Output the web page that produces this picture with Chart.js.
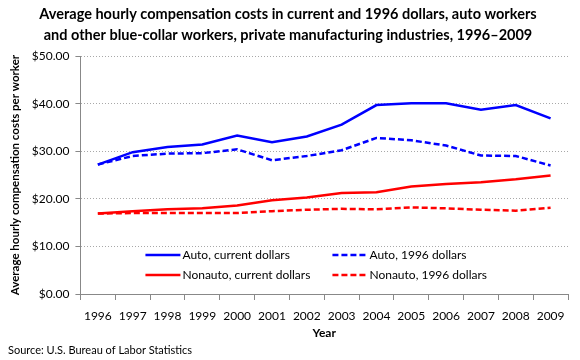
<!DOCTYPE html>
<html>
<head>
<meta charset="utf-8">
<script src="https://cdn.jsdelivr.net/npm/chart.js@4"></script>
<style>
  body { margin: 0; background: #fff; }
  #wrap { width: 580px; height: 360px; position: relative; }
</style>
</head>
<body>
<div id="wrap"><canvas id="chart" width="580" height="360"></canvas></div>
<script>
const years = ["1996", "1997", "1998", "1999", "2000", "2001", "2002", "2003", "2004", "2005", "2006", "2007", "2008", "2009"];
const autoCurrent = [27.2, 29.8, 30.9, 31.4, 33.3, 31.9, 33.1, 35.6, 39.7, 40.1, 40.1, 38.7, 39.7, 36.9];
const auto1996 = [27.2, 29.0, 29.5, 29.6, 30.4, 28.1, 29.0, 30.2, 32.8, 32.3, 31.2, 29.1, 29.0, 27.0];
const nonautoCurrent = [16.9, 17.4, 17.8, 18.0, 18.6, 19.7, 20.3, 21.2, 21.4, 22.6, 23.1, 23.5, 24.1, 24.9];
const nonauto1996 = [16.9, 17.0, 17.0, 17.0, 17.0, 17.4, 17.7, 17.9, 17.8, 18.2, 18.0, 17.7, 17.5, 18.1];
const yTicks = [0, 10, 20, 30, 40, 50];

const FONT = "Lato, 'Open Sans', sans-serif";

// legend drawn inside the plot area, two columns
const insideLegend = {
  id: "insideLegend",
  afterDatasetsDraw(chart) {
    const ctx = chart.ctx;
    const area = chart.chartArea;
    const cols = [area.left + 65, area.left + 252];
    const rows = [area.bottom - 39, area.bottom - 19];
    chart.data.datasets.forEach((ds, i) => {
      const x = cols[i % 2];
      const y = rows[Math.floor(i / 2)];
      ctx.save();
      ctx.strokeStyle = ds.borderColor;
      ctx.lineWidth = 2.5;
      ctx.setLineDash(ds.borderDash || []);
      ctx.beginPath();
      ctx.moveTo(x, y);
      ctx.lineTo(x + 35, y);
      ctx.stroke();
      ctx.setLineDash([]);
      ctx.fillStyle = "#000";
      ctx.font = "12px " + FONT;
      ctx.textBaseline = "middle";
      ctx.fillText(ds.label, x + 37, y);
      ctx.restore();
    });
  },
};

const sourceNote = {
  id: "sourceNote",
  afterDraw(chart) {
    const ctx = chart.ctx;
    ctx.save();
    ctx.fillStyle = "#000";
    ctx.font = "11px " + FONT;
    ctx.textBaseline = "middle";
    ctx.fillText("Source: U.S. Bureau of Labor Statistics", 8, 350);
    ctx.restore();
  },
};

new Chart(document.getElementById("chart"), {
  type: "line",
  data: {
    labels: years,
    datasets: [
      { label: "Auto, current dollars", data: autoCurrent, borderColor: "#0000ff" },
      { label: "Auto, 1996 dollars", data: auto1996, borderColor: "#0000ff", borderDash: [6, 3] },
      { label: "Nonauto, current dollars", data: nonautoCurrent, borderColor: "#ff0000" },
      { label: "Nonauto, 1996 dollars", data: nonauto1996, borderColor: "#ff0000", borderDash: [6, 3] },
    ].map((d) => Object.assign({ borderWidth: 2.5, pointRadius: 0, tension: 0, fill: false }, d)),
  },
  options: {
    responsive: false,
    animation: false,
    layout: { padding: { left: 8, right: 12, top: 0, bottom: 16 } },
    plugins: {
      legend: { display: false },
      tooltip: { enabled: false },
      title: {
        display: true,
        text: [
          "Average hourly compensation costs in current and 1996 dollars, auto workers",
          "and other blue-collar workers, private manufacturing industries, 1996\u20132009",
        ],
        color: "#000",
        font: { family: FONT, size: 14.5, weight: "bold", lineHeight: 1.45 },
        padding: { top: 4, bottom: 10 },
      },
    },
    scales: {
      x: {
        offset: true,
        grid: { display: true, drawOnChartArea: false, offset: true, color: "#888", tickLength: 6 },
        border: { color: "#888", width: 1 },
        ticks: { color: "#000", font: { family: FONT, size: 12 }, maxRotation: 0, autoSkip: false, padding: 9 },
        title: { display: true, text: "Year", color: "#000", font: { family: FONT, size: 12, weight: "bold" }, padding: { top: 0, bottom: 4 } },
        afterFit: (axis) => { axis.height = 50; },
      },
      y: {
        min: 0,
        max: 50,
        afterBuildTicks: (axis) => { axis.ticks = yTicks.map((v) => ({ value: v })); },
        grid: { color: "#a8a8a8", tickLength: 5, tickColor: "#888", drawTicks: true },
        border: { color: "#888", width: 1, dash: [1, 2] },
        ticks: {
          color: "#000",
          font: { family: FONT, size: 12 },
          padding: 6,
          callback: (v) => "$" + v.toFixed(2),
        },
        title: {
          display: true,
          text: "Average hourly compensation costs per worker",
          color: "#000",
          font: { family: FONT, size: 11.5, weight: "bold" },
          padding: { top: 0, bottom: 4 },
        },
      },
    },
  },
  plugins: [insideLegend, sourceNote],
});
</script>
</body>
</html>
